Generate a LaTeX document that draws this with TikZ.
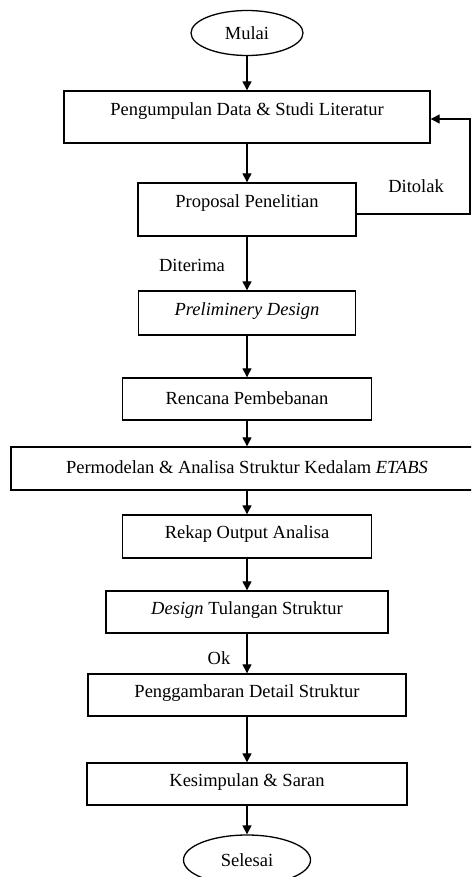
\documentclass[tikz,border=0pt]{standalone}
\usepackage{fontspec}
\setmainfont{Liberation Serif}
\usetikzlibrary{arrows.meta,shapes.geometric}
\begin{document}
\begin{tikzpicture}[x=1pt,y=-1pt,
  every node/.style={font=\fontsize{18.5}{22}\selectfont},
  box/.style={draw,line width=1.4pt,rectangle,inner sep=0pt},
  oval/.style={draw,line width=1.3pt,ellipse,inner sep=0pt},
  txt/.style={inner sep=0pt},
  flow/.style={line width=1.3pt,-{Triangle[width=9pt,length=9pt]}}]
\useasboundingbox (0,0) rectangle (471,877);
\clip (0,0) rectangle (471,877);
% start / end
\node[oval,minimum width=112,minimum height=45] (start) at (247,33) {Mulai};
% boxes
\node[box,minimum width=366,minimum height=52] (b1) at (247,117) {};
\node[txt] (t1) at ([yshift=-21pt]b1.north) {Pengumpulan Data \& Studi Literatur};
\node[box,minimum width=218,minimum height=53] (b2) at (247,209.5) {};
\node[txt] (t2) at ([yshift=-21pt]b2.north) {Proposal Penelitian};
\node[box,minimum width=217,minimum height=44] (b3) at (247,313) {};
\node[txt] (t3) at ([yshift=-21pt]b3.north) {\textit{Preliminery Design}};
\node[box,minimum width=249,minimum height=42] (b4) at (247,399) {};
\node[txt] (t4) at ([yshift=-21pt]b4.north) {Rencana Pembebanan};
\node[box,minimum width=472,minimum height=43] (b5) at (247,468.5) {};
\node[txt] (t5) at ([yshift=-21pt]b5.north) {Permodelan \& Analisa Struktur Kedalam \textit{ETABS}};
\node[box,minimum width=249,minimum height=43] (b6) at (247,536.5) {};
\node[txt] (t6) at ([yshift=-20pt]b6.north) {Rekap Output Analisa};
\node[box,minimum width=282,minimum height=42] (b7) at (247,612) {};
\node[txt] (t7) at ([yshift=-20pt]b7.north) {\textit{Design} Tulangan Struktur};
\node[box,minimum width=318,minimum height=42] (b8) at (247,695) {};
\node[txt] (t8) at ([yshift=-20pt]b8.north) {Penggambaran Detail Struktur};
\node[box,minimum width=320,minimum height=42] (b9) at (247,784) {};
\node[txt] (t9) at ([yshift=-20pt]b9.north) {Kesimpulan \& Saran};
\node[oval,minimum width=127,minimum height=50] (end) at (247,860) {Selesai};
% labels
\node[txt] (ditolak) at (416,186) {Ditolak};
\node[txt] (diterima) at (192,265) {Diterima};
\node[txt] (ok) at (219,658) {Ok};
% connectors
\draw[flow] (start) -- (b1);
\draw[flow] (b1) -- (b2);
\draw[flow] (b2) -- (b3);
\draw[flow] (b3) -- (b4);
\draw[flow] (b4) -- (b5);
\draw[flow] (b5) -- (b6);
\draw[flow] (b6) -- (b7);
\draw[flow] (b7) -- (b8);
\draw[flow] (b8) -- (b9);
\draw[flow] (b9) -- (end);
\coordinate (fb) at (470,0);
\draw[flow] ([yshift=-4.5pt]b2.east) -- ([yshift=-4.5pt]b2.east -| fb) |- ([yshift=-2pt]b1.east);
\end{tikzpicture}
\end{document}
